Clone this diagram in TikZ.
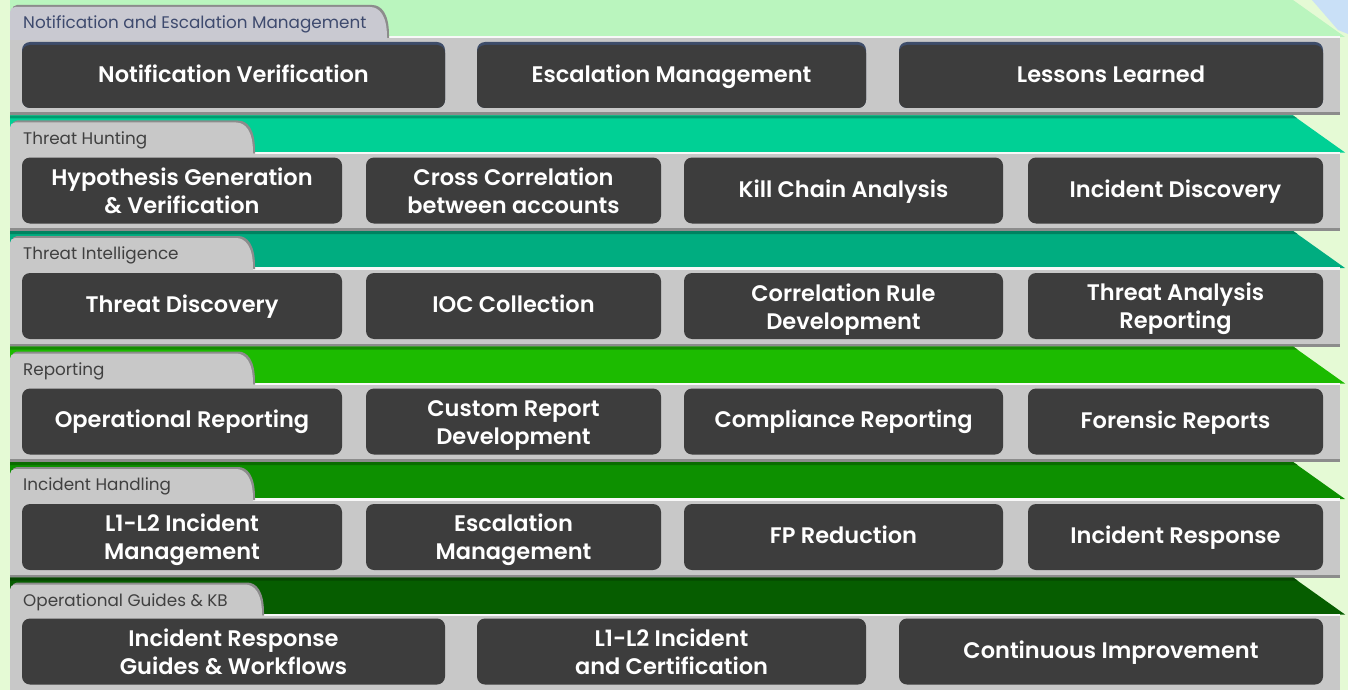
\documentclass[tikz,border=0pt]{standalone}
\usepackage{fontspec}
\setmainfont{Poppins}[BoldFont={Poppins SemiBold}]
\definecolor{bgpale}{HTML}{E5FAD5}
\definecolor{bandA}{HTML}{BAF5BE}
\definecolor{bandB}{HTML}{00D095}
\definecolor{bandC}{HTML}{00AD80}
\definecolor{bandD}{HTML}{1CBB00}
\definecolor{bandE}{HTML}{0D9000}
\definecolor{bandF}{HTML}{065D00}
\definecolor{panelgray}{HTML}{C8C8C8}
\definecolor{tabblue}{HTML}{C9C9D1}
\definecolor{boxgray}{HTML}{3D3D3D}
\definecolor{stripe}{HTML}{3E4D6A}
\definecolor{tabtextA}{HTML}{3E4A6E}
\definecolor{tabtext}{HTML}{404040}
\definecolor{skyblue}{HTML}{C9E0F7}
\newcommand\tierlayer[6]{% #1 top, #2 tab right, #3 band colour, #4 tab colour, #5 node name, #6 label
  \fill[#3] (10,#1) -- (1293,#1) -- (1345,#1+37) -- (10,#1+37) -- cycle;
  \fill[panelgray] (10,#1+36) rectangle (1340,#1+115);
  \fill[white!88!panelgray] (#2,#1+36) rectangle (1340,#1+38.5);
  \fill[black!45] (10,#1+112.5) rectangle (1340,#1+115.5);
  \fill[black!45,shift={(2,-2)}] (10,#1+40) [rounded corners=5pt] -- (10,#1+7) -- (#2-22,#1+7) [sharp corners] .. controls (#2-8,#1+7) and (#2,#1+15) .. (#2,#1+37) -- (#2,#1+40) -- cycle;
  \fill[#4] (10,#1+40) [rounded corners=5pt] -- (10,#1+7) -- (#2-22,#1+7) [sharp corners] .. controls (#2-8,#1+7) and (#2,#1+15) .. (#2,#1+37) -- (#2,#1+40) -- cycle;
  \node[tablabel] (#5) at (23,#1+24.5) {#6};
}
\newcommand\bandedge[2]{\fill[#2!75!black] (10,#1) -- (1293,#1) -- (1297.5,#1+3) -- (10,#1+3) -- cycle;}
\newcommand\ls{\rule[-6pt]{0pt}{25pt}}
\newcommand\lt{\rule[-6pt]{0pt}{30pt}}
\newcommand\lb{\rule[-6pt]{0pt}{22pt}}
\begin{document}
\begin{tikzpicture}[x=1pt,y=-1pt,
  tablabel/.style={anchor=west,inner sep=0pt,text=tabtext,font=\fontsize{16.8}{18}\selectfont},
  tierbox/.style={fill=boxgray,rounded corners=8pt,text=white,align=center,inner sep=0pt,
    minimum height=66,font=\bfseries\fontsize{22.5}{28}\selectfont},
  wideA/.style={minimum width=423},
  wideB/.style={minimum width=389},
  wideC/.style={minimum width=424},
  narA/.style={minimum width=320},
  narB/.style={minimum width=295},
  narC/.style={minimum width=319},
  narD/.style={minimum width=295}]
\useasboundingbox (0,0) rectangle (1348,690);
\clip (0,0) rectangle (1348,690);
\fill[bgpale] (0,0) rectangle (1348,690);
\fill[skyblue] (1312,0) -- (1348,0) -- (1348,34) -- (1338,30) -- cycle;

% Layer 1
\tierlayer{0}{387}{bandA}{tabblue}{tabA}{\textcolor{tabtextA}{Notification and Escalation Management}}
\fill[stripe,rounded corners=8pt] (22,42) rectangle (445,108);
\fill[stripe,rounded corners=8pt] (477,42) rectangle (866,108);
\fill[stripe,rounded corners=8pt] (899,42) rectangle (1323,108);
\node[tierbox,wideA,minimum height=63] (a1) at (233.5,76.5) {\ls Notification Verification};
\node[tierbox,wideB,minimum height=63] (a2) at (671.5,76.5) {\ls Escalation Management};
\node[tierbox,wideC,minimum height=63] (a3) at (1111,76.5) {\ls Lessons Learned};

% Layer 2
\tierlayer{115.5}{253}{bandB}{panelgray}{tabB}{Threat Hunting}
\bandedge{115.5}{bandB}
\node[tierbox,narA] (b1) at (182,190.5) {\lt Hypothesis Generation\\\lb\& Verification};
\node[tierbox,narB] (b2) at (513.5,190.5) {\lt Cross Correlation\\\lb between accounts};
\node[tierbox,narC] (b3) at (843.5,190.5) {\ls Kill Chain Analysis};
\node[tierbox,narD] (b4) at (1175.5,190.5) {\ls Incident Discovery};

% Layer 3
\tierlayer{231}{253}{bandC}{panelgray}{tabC}{Threat Intelligence}
\bandedge{231}{bandC}
\node[tierbox,narA] (c1) at (182,306) {\ls Threat Discovery};
\node[tierbox,narB] (c2) at (513.5,306) {\ls IOC Collection};
\node[tierbox,narC] (c3) at (843.5,306) {\lt Correlation Rule\\\lb Development};
\node[tierbox,narD] (c4) at (1175.5,306) {\lt Threat Analysis\\\lb Reporting};

% Layer 4
\tierlayer{346.5}{253}{bandD}{panelgray}{tabD}{Reporting}
\bandedge{346.5}{bandD}
\node[tierbox,narA] (d1) at (182,421.5) {\ls Operational Reporting};
\node[tierbox,narB] (d2) at (513.5,421.5) {\lt Custom Report\\\lb Development};
\node[tierbox,narC] (d3) at (843.5,421.5) {\ls Compliance Reporting};
\node[tierbox,narD] (d4) at (1175.5,421.5) {\ls Forensic Reports};

% Layer 5
\tierlayer{462}{253}{bandE}{panelgray}{tabE}{Incident Handling}
\bandedge{462}{bandE}
\node[tierbox,narA] (e1) at (182,537) {\lt L1-L2 Incident\\\lb Management};
\node[tierbox,narB] (e2) at (513.5,537) {\lt Escalation\\\lb Management};
\node[tierbox,narC] (e3) at (843.5,537) {\ls FP Reduction};
\node[tierbox,narD] (e4) at (1175.5,537) {\ls Incident Response};

% Layer 6
\tierlayer{577.5}{262}{bandF}{panelgray}{tabF}{Operational Guides \& KB}
\bandedge{577.5}{bandF}
\node[tierbox,wideA] (f1) at (233.5,651.5) {\lt Incident Response\\\lb Guides \& Workflows};
\node[tierbox,wideB] (f2) at (671.5,651.5) {\lt L1-L2 Incident\\\lb and Certification};
\node[tierbox,wideC] (f3) at (1111,651.5) {\ls Continuous Improvement};
\end{tikzpicture}
\end{document}
